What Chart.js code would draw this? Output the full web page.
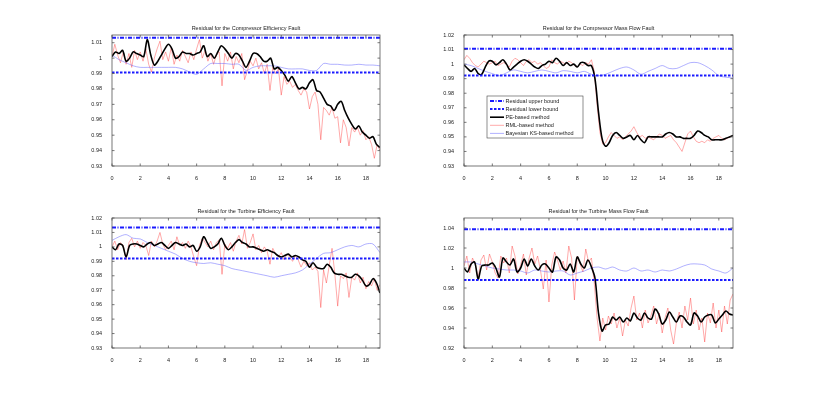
<!DOCTYPE html>
<html><head><meta charset="utf-8">
<script src="https://cdn.jsdelivr.net/npm/chart.js@4.4.0/dist/chart.umd.min.js"></script>
<style>
body{margin:0;background:#fff;width:816px;height:398px;overflow:hidden;position:relative}
canvas{position:absolute}
</style>
</head><body>
<canvas id="c1"></canvas><canvas id="c2"></canvas><canvas id="c3"></canvas><canvas id="c4"></canvas>
<script>
// ---------- data ----------
const titles = [
  "Residual for the Compressor Efficiency Fault",
  "Residual for the Compressor Mass Flow Fault",
  "Residual for the Turbine Efficiency Fault",
  "Residual for the Turbine Mass Flow Fault"
];
const legendLabels = ["Residual upper bound","Residual lower bound","PE-based method","RML-based method","Bayesian KS-based method"];
const upperBound = [1.0132, 1.0105, 1.0134, 1.0388];
const lowerBound = [0.9907, 0.9922, 0.9920, 0.9881];
const yMin  = [0.93, 0.93, 0.93, 0.92];
const yMax  = [1.015, 1.02, 1.02, 1.05];
const yStep = [0.01, 0.01, 0.01, 0.02];
const xMin = 0, xMax = 19, xStep = 2;
const peStep = 0.25, rmlStep = 0.2, ksStep = 0.5;

const pe1 = [
 1.001,1.004,1.003,1.005, 0.998,1.000,1.004,1.003, 1.002,1.001,1.012,1.002, 0.9955,0.998,1.002,1.006,
 1.009,1.006,1.000,1.001, 1.004,1.003,1.003,1.002, 1.003,1.004,1.008,1.001, 1.003,1.000,1.004,1.008,
 1.006,1.003,1.000,1.003, 1.002,0.998,0.994,0.998, 1.003,1.003,1.001,0.998, 0.998,1.000,0.993,0.994,
 0.992,0.989,0.985,0.988, 0.984,0.980,0.981,0.980, 0.984,0.986,0.979,0.978, 0.974,0.970,0.969,0.966,
 0.970,0.972,0.966,0.961, 0.957,0.954,0.956,0.952, 0.950,0.948,0.949,0.944, 0.942];
const rml1 = [
 1.001,1.009,1.002,0.997,1.004, 0.996,1.003,0.994,1.005,0.999, 1.004,0.998,1.006,0.996,0.991,
 1.000,1.006,1.011,0.999,1.004, 0.998,1.007,0.996,1.002,0.998, 1.005,1.001,0.997,1.004,0.999,
 1.006,1.012,1.000,1.005,0.998, 1.003,0.996,1.002,1.004,0.982, 1.003,0.998,1.004,0.993,1.001,
 0.997,1.003,0.986,0.992,0.998, 0.995,1.000,0.993,0.997,0.990, 0.996,0.979,0.994,0.990,0.993,
 0.976,0.988,0.983,0.985,0.981, 0.983,0.979,0.976,0.980,0.978, 0.967,0.975,0.978,0.970,0.947,
 0.968,0.966,0.963,0.968,0.961, 0.962,0.945,0.960,0.955,0.943, 0.955,0.952,0.955,0.950,0.953,
 0.947,0.949,0.944,0.935,0.944, 0.940];
const ks1 = [
 1.002,0.999, 0.997,0.995, 0.994,0.994, 0.994,0.994, 0.994,0.994, 0.993,0.991, 0.9895,0.993,
 0.9965,0.9965, 0.9965,0.996, 0.996,0.992, 0.994,0.995, 0.995,0.995, 0.994,0.993, 0.993,0.993,
 0.992,0.992, 0.9965,0.996, 0.996,0.9955, 0.9955,0.996, 0.9955,0.9955, 0.995];

const pe2 = [
 0.9995,0.997,0.995,0.997, 0.9935,0.993,0.998,1.002, 1.002,0.9995,1.001,1.003, 1.000,0.996,0.998,1.000,
 1.002,1.003,1.002,1.000, 0.998,0.997,0.999,1.000, 1.002,1.001,1.004,1.002, 0.999,1.001,0.999,1.000,
 0.998,1.001,1.001,0.999, 0.999,0.990,0.967,0.949, 0.9436,0.946,0.951,0.953, 0.951,0.949,0.950,0.951,
 0.948,0.951,0.948,0.946, 0.950,0.950,0.950,0.950, 0.950,0.952,0.953,0.952, 0.950,0.950,0.949,0.949,
 0.949,0.951,0.954,0.953, 0.951,0.950,0.948,0.948, 0.948,0.948,0.949,0.950, 0.951];
const rml2 = [
 1.003,1.006,1.004,1.001,0.999, 0.998,1.000,1.002,1.001,1.000, 1.001,1.002,0.999,1.000,1.001,
 1.000,0.998,1.002,1.004,1.003, 1.001,0.999,1.002,1.003,1.001, 1.002,1.000,1.001,0.999,0.997,
 0.998,1.003,1.001,1.000,1.002, 1.001,1.000,1.002,1.001,0.999, 0.998,1.000,0.999,1.001,1.000,
 1.003,0.995,0.972,0.953,0.945, 0.946,0.950,0.953,0.951,0.949, 0.950,0.948,0.950,0.952,0.954,
 0.957,0.953,0.950,0.951,0.949, 0.950,0.949,0.948,0.950,0.952, 0.951,0.949,0.950,0.951,0.948,
 0.946,0.943,0.940,0.946,0.952, 0.954,0.950,0.947,0.946,0.947, 0.946,0.948,0.947,0.949,0.950,
 0.951,0.949,0.948,0.949,0.950, 0.951];
const ks2 = [
 1.000,0.999, 0.997,0.995, 0.9935,0.992, 0.994,0.996, 0.995,0.994, 0.995,0.996, 0.995,0.994,
 0.9955,0.995, 0.994,0.995, 0.993,0.992, 0.993,0.995, 0.997,0.998, 0.996,0.993, 0.995,0.997,
 0.999,0.997, 0.997,0.999, 1.001,1.001, 0.999,0.996, 0.992,0.991, 0.9905];

const pe3 = [
 1.000,0.998,1.002,1.001, 0.993,1.001,1.002,1.002, 1.001,1.000,1.002,1.003, 1.001,1.002,1.003,1.001,
 0.999,1.001,1.003,1.002, 1.001,1.002,1.000,1.001, 0.997,1.000,1.007,1.003, 0.999,1.000,1.002,1.006,
 1.001,0.998,1.000,1.003, 1.005,1.003,1.002,1.000, 1.000,0.999,0.998,0.997, 0.998,0.997,0.996,0.994,
 0.993,0.994,0.995,0.993, 0.994,0.993,0.991,0.990, 0.986,0.989,0.986,0.985, 0.985,0.988,0.986,0.982,
 0.981,0.981,0.980,0.979, 0.979,0.981,0.980,0.977, 0.973,0.974,0.978,0.975, 0.968];
const rml3 = [
 1.000,1.004,0.998,1.003,1.001, 0.991,1.003,1.006,1.000,1.004, 0.999,1.003,1.001,0.994,1.004,
 1.000,1.004,1.010,1.002,0.998, 1.001,1.004,0.998,1.007,1.001, 1.003,0.999,1.004,1.000,0.993,
 0.987,1.001,1.006,1.003,1.000, 1.004,0.998,1.003,1.005,0.981, 1.002,0.999,1.003,0.997,1.004,
 1.008,1.002,1.012,0.999,1.003, 1.009,0.998,1.001,0.996,1.000, 0.997,0.988,0.999,0.995,0.993,
 0.996,0.991,0.995,0.993,0.990, 0.994,0.991,0.986,0.990,0.987, 0.989,0.984,0.986,0.983,0.958,
 0.984,0.975,0.987,0.999,0.981, 0.959,0.980,0.978,0.982,0.965, 0.979,0.977,0.982,0.975,0.979,
 0.971,0.976,0.973,0.978,0.970, 0.974];
const ks3 = [
 1.0045,1.007, 1.0085,1.006, 1.0055,1.003, 1.001,0.999, 0.997,0.995, 0.992,0.990, 0.989,0.9885,
 0.989,0.988, 0.987,0.985, 0.984,0.983, 0.982,0.981, 0.980,0.979, 0.980,0.981, 0.982,0.984,
 0.988,0.992, 0.9955,0.996, 0.998,1.000, 1.001,1.000, 1.002,1.002, 0.996];

const pe4 = [
 1.000,0.996,1.004,1.006, 0.989,1.002,1.003,1.003, 1.005,1.000,0.991,1.010, 1.006,1.003,1.009,0.996,
 1.000,1.009,1.002,1.009, 1.002,0.998,1.003,1.004, 1.000,0.996,1.011,1.008, 1.000,0.998,1.004,0.996,
 1.011,1.004,1.000,1.008, 1.001,0.990,0.955,0.937, 0.943,0.944,0.951,0.948, 0.951,0.946,0.950,0.947,
 0.955,0.950,0.948,0.955, 0.950,0.949,0.959,0.954, 0.944,0.948,0.956,0.951, 0.946,0.952,0.951,0.946,
 0.943,0.955,0.952,0.946, 0.951,0.953,0.953,0.945, 0.949,0.953,0.957,0.954, 0.953];
const rml4 = [
 1.002,1.012,0.995,1.010,1.004, 0.990,1.008,1.013,0.998,1.014, 1.006,0.995,0.990,1.012,1.005,
 1.010,0.995,1.022,1.012,0.994, 1.003,1.014,0.993,1.010,1.020, 1.004,1.012,0.998,0.979,1.008,
 0.966,1.003,1.016,1.008,0.998, 1.007,0.995,1.022,1.010,0.968, 1.012,1.004,0.996,1.019,1.006,
 1.010,0.985,0.950,0.927,0.950, 0.938,0.952,0.944,0.955,0.940, 0.950,0.932,0.948,0.942,0.960,
 0.972,0.948,0.955,0.940,0.958, 0.945,0.952,0.962,0.944,0.955, 0.935,0.950,0.960,0.938,0.924,
 0.945,0.956,0.940,0.962,0.948, 0.970,0.944,0.958,0.938,0.950, 0.926,0.955,0.945,0.965,0.940,
 0.958,0.936,0.962,0.944,0.968, 0.974];
const ks4 = [
 1.006,1.006, 1.004,1.002, 1.000,0.999, 0.998,0.998, 0.997,0.995, 0.998,0.997, 0.996,0.997,
 0.997,0.993, 0.995,0.997, 1.000,1.001, 0.999,1.001, 0.998,0.997, 1.000,0.997, 0.998,0.996,
 0.998,0.997, 0.999,1.002, 1.004,1.004, 1.003,0.999, 0.997,0.995, 1.000];

const peSeries  = [pe1, pe2, pe3, pe4];
const rmlSeries = [rml1, rml2, rml3, rml4];
const ksSeries  = [ks1, ks2, ks3, ks4];

// ---------- layout / style ----------
const areas = [
  {l:112, t:35,  r:380, b:166},
  {l:464, t:35,  r:733, b:166},
  {l:112, t:218, r:380, b:348},
  {l:464, t:218, r:733, b:348}
];
const FONT = '"Liberation Sans", Arial, sans-serif';
const TXT = '#222';
const styles = {
  upper: {borderColor:'#1a1aff', borderWidth:2, borderDash:[4,1.5,1,1.5]},
  lower: {borderColor:'#1a1aff', borderWidth:2, borderDash:[2.5,1.5]},
  pe:    {borderColor:'#000000', borderWidth:1.6},
  rml:   {borderColor:'rgba(255,60,60,0.55)', borderWidth:0.8},
  ks:    {borderColor:'rgba(90,90,255,0.6)', borderWidth:0.8}
};

function pts(vals, step){ return vals.map((v,i)=>({x:+(i*step).toFixed(3), y:v})); }

const boxPlugin = {
  id:'mbox',
  afterDatasetsDraw(chart, args, opts){
    const {ctx, chartArea:a, scales:{x, y}} = chart;
    ctx.save();
    ctx.strokeStyle = '#555'; ctx.lineWidth = 0.8; ctx.setLineDash([]);
    ctx.strokeRect(a.left, a.top, a.right-a.left, a.bottom-a.top);
    ctx.beginPath();
    x.ticks.forEach(t=>{ const p=x.getPixelForValue(t.value);
      ctx.moveTo(p,a.bottom); ctx.lineTo(p,a.bottom-2.5); ctx.moveTo(p,a.top); ctx.lineTo(p,a.top+2.5); });
    y.ticks.forEach(t=>{ const p=y.getPixelForValue(t.value);
      ctx.moveTo(a.left,p); ctx.lineTo(a.left+2.5,p); ctx.moveTo(a.right,p); ctx.lineTo(a.right-2.5,p); });
    ctx.stroke();
    ctx.fillStyle = TXT; ctx.font = '5.5px '+FONT; ctx.textAlign='center'; ctx.textBaseline='middle';
    ctx.fillText(opts.title, (a.left+a.right)/2, a.top-6.5);
    if (opts.legend){
      const lx = a.left+23, ly = a.top+61, lw = 96, lh = 42;
      ctx.fillStyle='#fff'; ctx.fillRect(lx,ly,lw,lh);
      ctx.strokeStyle='#444'; ctx.lineWidth=0.6; ctx.strokeRect(lx,ly,lw,lh);
      const keys = ['upper','lower','pe','rml','ks'];
      keys.forEach((k,i)=>{
        const s = styles[k], yy = ly+5+i*8.1;
        ctx.strokeStyle=s.borderColor; ctx.lineWidth=s.borderWidth; ctx.setLineDash(s.borderDash||[]);
        ctx.beginPath(); ctx.moveTo(lx+3,yy); ctx.lineTo(lx+17,yy); ctx.stroke();
        ctx.setLineDash([]);
        ctx.fillStyle=TXT; ctx.textAlign='left'; ctx.fillText(legendLabels[i], lx+18.5, yy);
      });
    }
    ctx.restore();
  }
};

areas.forEach((ar, k)=>{
  const cv = document.getElementById('c'+(k+1));
  const padL = 32, padT = 20, padR = 10, padB = 16;
  cv.width = ar.r-ar.l+padL+padR; cv.height = ar.b-ar.t+padT+padB;
  cv.style.left = (ar.l-padL)+'px'; cv.style.top = (ar.t-padT)+'px';
  const ub = upperBound[k], lb = lowerBound[k];
  new Chart(cv, {
    type:'line',
    data:{datasets:[
      Object.assign({label:legendLabels[0], data:[{x:xMin,y:ub},{x:xMax,y:ub}], order:0}, styles.upper),
      Object.assign({label:legendLabels[1], data:[{x:xMin,y:lb},{x:xMax,y:lb}], order:0}, styles.lower),
      Object.assign({label:legendLabels[2], data:pts(peSeries[k], peStep), order:1, tension:0.3}, styles.pe),
      Object.assign({label:legendLabels[4], data:pts(ksSeries[k], ksStep), order:2, tension:0.3}, styles.ks),
      Object.assign({label:legendLabels[3], data:pts(rmlSeries[k], rmlStep), order:3}, styles.rml)
    ]},
    options:{
      responsive:false, animation:false, devicePixelRatio:1,
      layout:{padding:{left:0, top:padT, right:padR, bottom:0}},
      elements:{point:{radius:0}},
      plugins:{legend:{display:false}, tooltip:{enabled:false}, title:{display:false},
               mbox:{title:titles[k], legend:k===1}},
      scales:{
        x:{type:'linear', min:xMin, max:xMax,
           ticks:{stepSize:xStep, includeBounds:false, maxRotation:0, autoSkip:false, padding:1.5,
                  color:TXT, font:{size:5.5, family:FONT}},
           grid:{display:false}, border:{display:false},
           afterFit(s){ s.height = padB; }},
        y:{type:'linear', min:yMin[k], max:yMax[k],
           ticks:{stepSize:yStep[k], includeBounds:false, autoSkip:false, padding:2,
                  color:TXT, font:{size:5.5, family:FONT},
                  callback:v=>String(+(+v).toFixed(3))},
           grid:{display:false}, border:{display:false},
           afterFit(s){ s.width = padL; }}
      }
    },
    plugins:[boxPlugin]
  });
});
</script>
</body></html>
